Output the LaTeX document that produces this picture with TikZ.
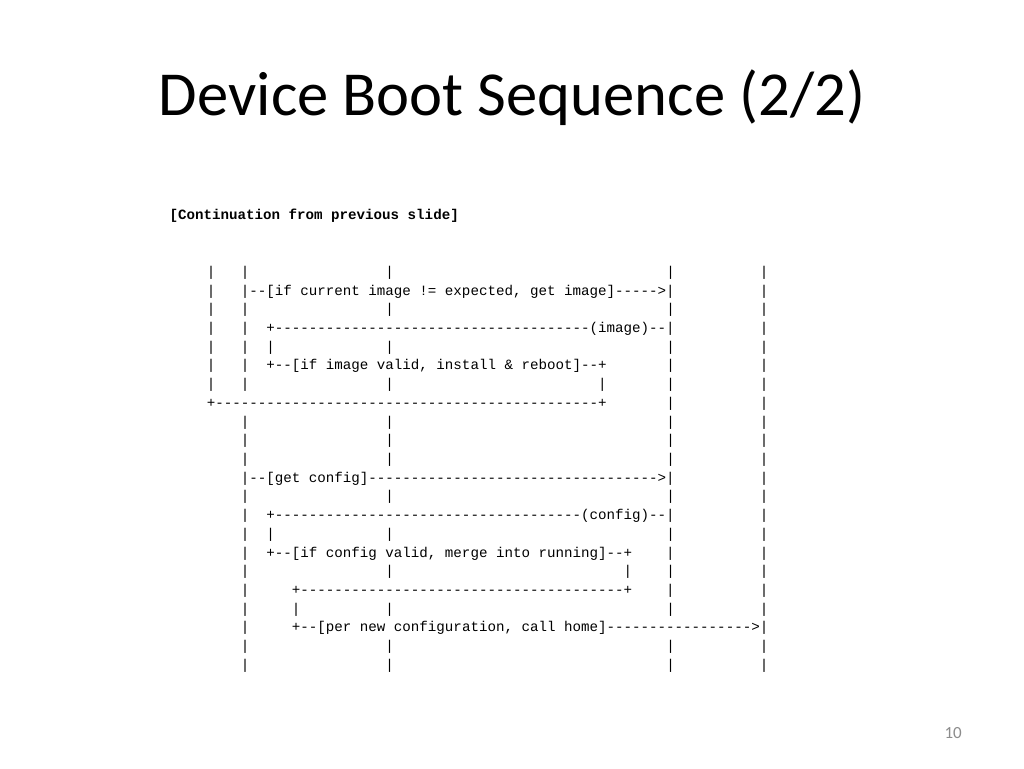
\documentclass[tikz,border=0pt]{standalone}
\usepackage{fontspec}
\setmainfont{Carlito}
\setmonofont{Liberation Mono}
\newcommand\sk[1]{\kern#1\fontcharwd\font`\M\relax}
\newcommand\dd[1]{\foreach\k in {1,...,#1}{-}}
\newcommand\asciirow[2]{\node[asciiline] (l#1) at (206.75,{276.3+(#1-1)*18.72}) {#2};}
\newcommand\barsfull{|\sk{3}|\sk{16}|\sk{32}|\sk{10}|}
\newcommand\barsinner{\sk{4}|\sk{16}|\sk{32}|\sk{10}|}
\tikzset{
  asciiline/.style={anchor=base west, inner sep=0pt, outer sep=0pt,
    font=\ttfamily\fontsize{14.18}{18}\selectfont\frenchspacing},
}
\begin{document}
\begin{tikzpicture}[x=1pt,y=-1pt]
\useasboundingbox[fill=white] (0,0) rectangle (1024,768);
\node[anchor=base, inner sep=0pt] (title) at (512,115)
  {\fontsize{62.6}{70}\selectfont Device Boot Sequence (2/2)};
\node[asciiline, font=\ttfamily\bfseries\fontsize{14.18}{18}\selectfont] (header) at (169.5,219)
  {[Continuation from previous slide]};
\asciirow{1}{\barsfull}
\asciirow{2}{|\sk{3}|\dd{2}[if current image != expected, get image]\dd{5}>|\sk{10}|}
\asciirow{3}{\barsfull}
\asciirow{4}{|\sk{3}|\sk{2}+\dd{37}(image)\dd{2}|\sk{10}|}
\asciirow{5}{|\sk{3}|\sk{2}|\sk{13}|\sk{32}|\sk{10}|}
\asciirow{6}{|\sk{3}|\sk{2}+\dd{2}[if image valid, install \& reboot]\dd{2}+\sk{7}|\sk{10}|}
\asciirow{7}{|\sk{3}|\sk{16}|\sk{24}|\sk{7}|\sk{10}|}
\asciirow{8}{+\dd{45}+\sk{7}|\sk{10}|}
\asciirow{9}{\barsinner}
\asciirow{10}{\barsinner}
\asciirow{11}{\barsinner}
\asciirow{12}{\sk{4}|\dd{2}[get config]\dd{34}>|\sk{10}|}
\asciirow{13}{\barsinner}
\asciirow{14}{\sk{4}|\sk{2}+\dd{36}(config)\dd{2}|\sk{10}|}
\asciirow{15}{\sk{4}|\sk{2}|\sk{13}|\sk{32}|\sk{10}|}
\asciirow{16}{\sk{4}|\sk{2}+\dd{2}[if config valid, merge into running]\dd{2}+\sk{4}|\sk{10}|}
\asciirow{17}{\sk{4}|\sk{16}|\sk{27}|\sk{4}|\sk{10}|}
\asciirow{18}{\sk{4}|\sk{5}+\dd{38}+\sk{4}|\sk{10}|}
\asciirow{19}{\sk{4}|\sk{5}|\sk{10}|\sk{32}|\sk{10}|}
\asciirow{20}{\sk{4}|\sk{5}+\dd{2}[per new configuration, call home]\dd{17}>|}
\asciirow{21}{\barsinner}
\asciirow{22}{\barsinner}
\node[anchor=base east, inner sep=0pt, text=black!45] (pagenum) at (962,738)
  {\fontsize{17}{20}\selectfont 10};
\end{tikzpicture}
\end{document}
